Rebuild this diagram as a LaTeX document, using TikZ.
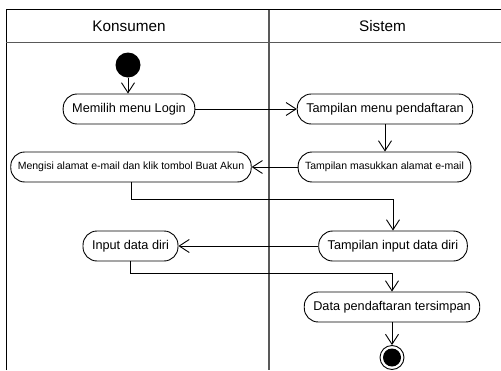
\documentclass[tikz,border=0pt]{standalone}
\usepackage{fontspec}
\setmainfont{Liberation Sans}
\usetikzlibrary{arrows.meta}

\tikzset{
  activity/.style={draw,rounded corners=14pt,minimum height=30pt,inner xsep=9pt,
    font=\fontsize{12.7}{15}\selectfont},
  smallactivity/.style={activity,inner xsep=7pt,font=\fontsize{10.5}{12}\selectfont},
  lanetitle/.style={font=\fontsize{15.3}{18}\selectfont},
  lane/.style={draw=black!65,line width=1.5pt},
  flow/.style={-{Straight Barb[length=10pt,width=13pt]}}
}

\begin{document}
\begin{tikzpicture}[x=1pt,y=-1pt,line width=0.9pt]
  \useasboundingbox (0,0) rectangle (501,370);
  \draw (6,370) -- (6,9.5) -- (501,9.5);
  \draw[lane] (6,42.5) -- (501,42.5);
  \draw[lane] (269,9.5) -- (269,370);
  \node[lanetitle] (konsumen) at (129,26) {Konsumen};
  \node[lanetitle] (sistem) at (382.5,26) {Sistem};

  \node[circle,fill,minimum size=25pt,inner sep=0pt] (start) at (128,65) {};
  \node[activity] (login) at (129,109) {Memilih menu Login};
  \node[activity] (menu) at (385,109) {Tampilan menu pendaftaran};
  \node[smallactivity] (email) at (384.5,167) {Tampilan masukkan alamat e-mail};
  \node[smallactivity] (isi) at (131,167) {Mengisi alamat e-mail dan klik tombol Buat Akun};
  \node[activity] (tampil) at (393,246) {Tampilan input data diri};
  \node[activity] (input) at (130.5,246) {Input data diri};
  \node[activity] (simpan) at (392,307) {Data pendaftaran tersimpan};
  \node[circle,draw,minimum size=24pt,inner sep=0pt] (end) at (392,357.5) {};
  \fill (end.center) circle (9pt);

  \draw[flow] (start) -- (start |- login.north);
  \draw[flow] (login) -- (menu);
  \draw[flow] (menu.south) -- (menu.south |- email.north);
  \draw[flow] (email) -- (isi);
  \draw[flow] (isi.south) -- ++(0,17) -| (tampil.north);
  \draw[flow] (tampil) -- (input);
  \draw[flow] (input.south) -- ++(0,12) -| (simpan.north);
  \draw[flow] (simpan) -- (end);
\end{tikzpicture}
\end{document}
